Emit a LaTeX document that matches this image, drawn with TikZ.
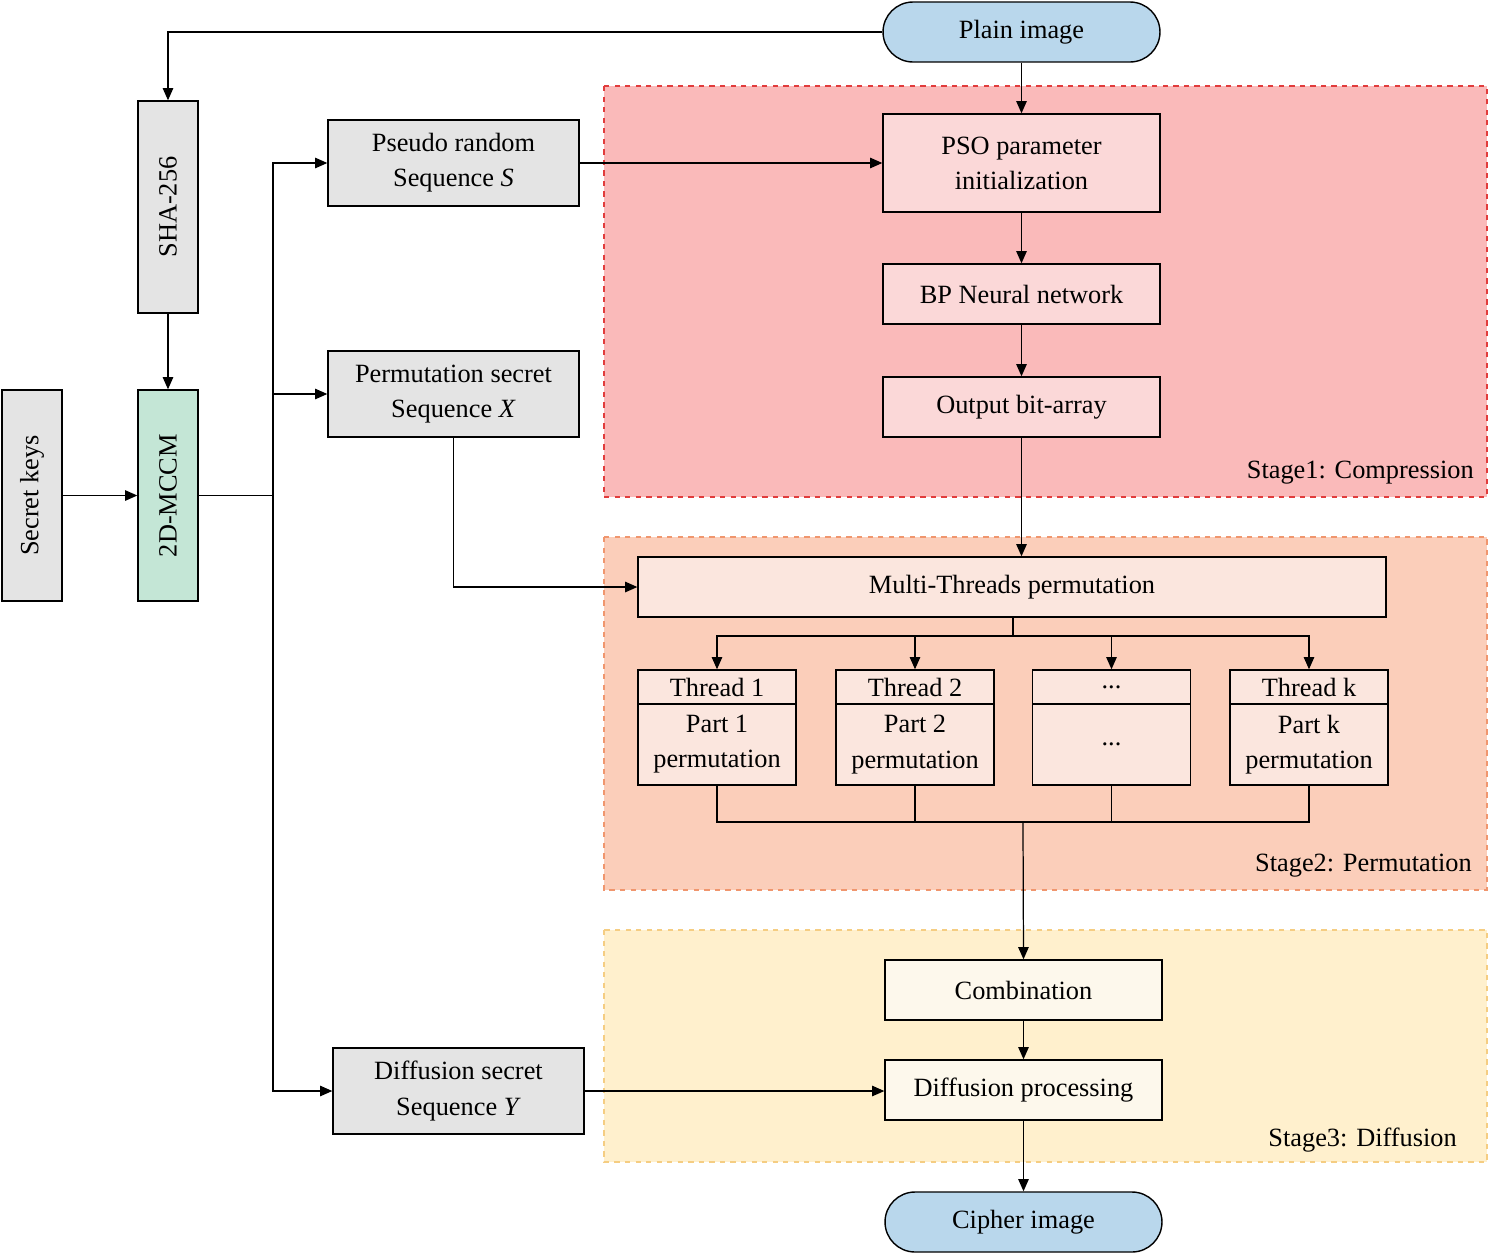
\documentclass[tikz,border=0pt]{standalone}
\usepackage{fontspec}
\setmainfont{Liberation Serif}
\usetikzlibrary{arrows.meta,positioning}
\definecolor{plainblue}{RGB}{185,215,236}
\definecolor{keygray}{RGB}{228,228,228}
\definecolor{mccmgreen}{RGB}{196,230,214}
\definecolor{stonebg}{RGB}{250,186,186}
\definecolor{stonebox}{RGB}{251,216,216}
\definecolor{sttwobg}{RGB}{251,206,186}
\definecolor{sttwobox}{RGB}{251,230,222}
\definecolor{stthreebg}{RGB}{255,240,205}
\definecolor{stthreebox}{RGB}{253,248,236}
\definecolor{stoneline}{RGB}{225,60,60}
\definecolor{sttwoline}{RGB}{240,150,110}
\definecolor{stthreeline}{RGB}{245,205,130}
\newcommand{\thdots}{...}
\tikzset{
  box/.style={draw, line width=0.8pt, inner sep=2pt, align=center, font=\fontsize{15}{20}\selectfont},
  term/.style={box, fill=plainblue, rounded corners=0.6cm, minimum width=5.54cm, minimum height=1.2cm},
  vbox/.style={box, rotate=90, minimum height=1.2cm},
  arr/.style={-{Triangle[length=7pt,width=6pt]}, line width=0.7pt},
  ln/.style={line width=0.7pt}
}
\begin{document}
\begin{tikzpicture}[x=0.02cm,y=-0.02cm]
\useasboundingbox (0,0) rectangle (1495,1255);
% stages
\draw[dashed, line width=0.9pt, draw=stoneline, fill=stonebg] (604,86) rectangle (1487,497);
\draw[dashed, line width=0.9pt, draw=sttwoline, fill=sttwobg] (604,537) rectangle (1487,890);
\draw[dashed, line width=0.9pt, draw=stthreeline, fill=stthreebg] (604,930) rectangle (1487,1162);
\node[font=\fontsize{15}{20}\selectfont, anchor=south east] (lone) at (1480,490) {Stage1: Compression};
\node[font=\fontsize{15}{20}\selectfont, anchor=south east] (ltwo) at (1478,883) {Stage2: Permutation};
\node[font=\fontsize{15}{20}\selectfont, anchor=south east] (lthree) at (1463,1158) {Stage3: Diffusion};

% main column
\node[term] (plain) at (1021.5,32) {Plain image};
\node[box, fill=stonebox, minimum width=5.54cm, minimum height=1.96cm] (pso) at (1021.5,163) {PSO parameter\\initialization};
\node[box, fill=stonebox, minimum width=5.54cm, minimum height=1.2cm] (bp) at (1021.5,294) {BP Neural network};
\node[box, fill=stonebox, minimum width=5.54cm, minimum height=1.2cm] (out) at (1021.5,407) {Output bit-array};
\node[box, fill=sttwobox, minimum width=14.96cm, minimum height=1.2cm] (multi) at (1012,587) {Multi-Threads permutation};
\node[box, fill=stthreebox, minimum width=5.54cm, minimum height=1.2cm] (comb) at (1023.5,990) {Combination};
\node[box, fill=stthreebox, minimum width=5.54cm, minimum height=1.2cm] (diff) at (1023.5,1090) {Diffusion processing};
\node[term] (cipher) at (1023.5,1222) {Cipher image};

% threads
\coordinate (join) at (1023,822);
\foreach \i/\x/\h/\b in {1/717/Thread 1/Part 1\\permutation, 2/915/Thread 2/Part 2\\permutation, 3/1111.5/\thdots/\thdots, 4/1309/Thread k/Part k\\permutation}{
  \node[box, fill=sttwobox, minimum width=3.16cm, minimum height=0.68cm, inner sep=0pt] (th\i) at (\x,687) {\h};
  \node[box, fill=sttwobox, minimum width=3.16cm, minimum height=1.62cm, inner sep=0pt] (pt\i) at (\x,744.5) {\b};
}

% key side
\node[vbox, fill=keygray, minimum width=4.24cm] (sha) at (168,207) {SHA-256};
\node[vbox, fill=mccmgreen, minimum width=4.22cm] (mccm) at (168,495.5) {2D-MCCM};
\node[vbox, fill=keygray, minimum width=4.22cm] (keys) at (32,495.5) {Secret keys};
\node[box, fill=keygray, minimum width=5.02cm, minimum height=1.72cm] (pseudo) at (453.5,163) {Pseudo random\\Sequence \textit{S}};
\node[box, fill=keygray, minimum width=5.02cm, minimum height=1.72cm] (perm) at (453.5,394) {Permutation secret\\Sequence \textit{X}};
\node[box, fill=keygray, minimum width=5.02cm, minimum height=1.72cm] (dsec) at (458.5,1091) {Diffusion secret\\Sequence \textit{Y}};
\coordinate (bus) at (273,495.5);

% connectors
\draw[arr] (plain.west) -| (sha.east);
\draw[arr] (sha.west) -- (mccm.east);
\draw[arr] (keys.south) -- (mccm.north);
\draw[ln] (mccm.south) -- (bus);
\draw[arr] (bus) |- (pseudo.west);
\draw[arr] (bus) |- (perm.west);
\draw[arr] (bus) |- (dsec.west);
\draw[arr] (pseudo.east) -- (pseudo.east -| pso.west);
\draw[arr] (plain) -- (pso);
\draw[arr] (pso) -- (bp);
\draw[arr] (bp) -- (out);
\draw[arr] (out.south) -- (out.south |- multi.north);
\draw[arr] (perm.south) |- (multi.west);
\coordinate (split) at (1013,636);
\draw[ln] (multi.south -| split) -- (split);
\foreach \i in {1,...,4}{
  \draw[arr] (split) -| (th\i.north);
  \draw[ln] (pt\i.south) -- (pt\i.south |- join) -- (join);
}
\draw[arr] (join) -- (comb.north);
\draw[arr] (comb) -- (diff);
\draw[arr] (dsec.east) -- (dsec.east -| diff.west);
\draw[arr] (diff) -- (cipher);
\end{tikzpicture}
\end{document}
